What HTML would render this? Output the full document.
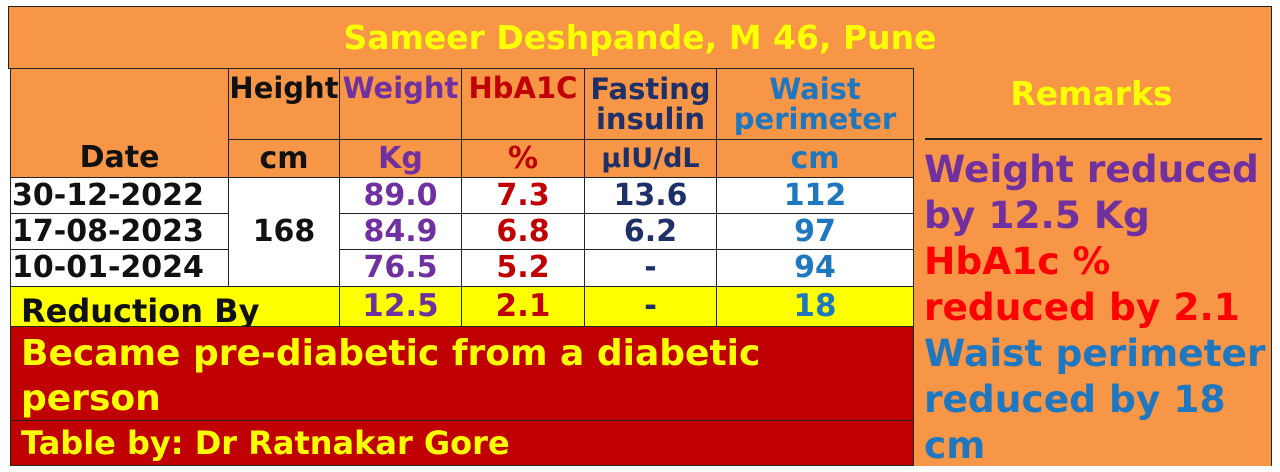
<!DOCTYPE html>
<html><head><meta charset="utf-8"><style>
html,body{margin:0;padding:0;background:#fff;}
body{width:1280px;height:472px;position:relative;overflow:hidden;font-family:"DejaVu Sans","Liberation Sans",sans-serif;font-weight:bold;}
.c{position:absolute;box-sizing:border-box;border:1px solid #222;display:flex;align-items:center;justify-content:center;text-align:center;line-height:1;white-space:nowrap;}
.o{background:#F79646;}
.w{background:#fff;}
.y{background:#FFFF00;}
.r{background:#C00000;}
.d{font-size:30px;}
.h{font-size:29px;}
.k{color:#111;} .p{color:#7030A0;} .rd{color:#C00000;} .n{color:#1F3068;} .b{color:#1F77C0;}
</style></head><body>
<div class="c o" style="left:8px;top:6px;width:1264px;height:63px;color:#FFFF00;font-size:33px;">Sameer Deshpande, M 46, Pune</div>

<div class="c o k d" style="left:10px;top:68px;width:219px;height:110px;align-items:flex-end;padding-bottom:4px;">Date</div>
<div class="c o k h" style="left:228px;top:68px;width:112px;height:72px;align-items:flex-start;padding-top:5px;">Height</div>
<div class="c o p h" style="left:339px;top:68px;width:123px;height:72px;align-items:flex-start;padding-top:5px;">Weight</div>
<div class="c o rd h" style="left:461px;top:68px;width:124px;height:72px;align-items:flex-start;padding-top:5px;">HbA1C</div>
<div class="c o n h" style="left:584px;top:68px;width:133px;height:72px;align-items:flex-start;padding-top:5px;line-height:1.05;white-space:normal;">Fasting insulin</div>
<div class="c o b h" style="left:716px;top:68px;width:198px;height:72px;align-items:flex-start;padding-top:5px;line-height:1.05;white-space:normal;">Waist<br>perimeter</div>

<div class="c o k d" style="left:228px;top:139px;width:112px;height:39px;">cm</div>
<div class="c o p d" style="left:339px;top:139px;width:123px;height:39px;">Kg</div>
<div class="c o rd d" style="left:461px;top:139px;width:124px;height:39px;">%</div>
<div class="c o n d" style="left:584px;top:139px;width:133px;height:39px;font-size:27px;">µIU/dL</div>
<div class="c o b d" style="left:716px;top:139px;width:198px;height:39px;">cm</div>

<div class="c o" style="left:913px;top:68px;width:359px;height:398px;border-bottom:none;border-top:none;"></div>
<div style="position:absolute;left:925px;top:138px;width:337px;height:2px;background:#222;"></div>
<div style="position:absolute;left:913px;top:74px;width:357px;text-align:center;color:#FFFF00;font-size:33px;">Remarks</div>
<div style="position:absolute;left:924px;top:146px;width:350px;font-size:37.5px;line-height:46px;white-space:nowrap;">
<div style="color:#7030A0">Weight reduced</div><div style="color:#7030A0">by 12.5 Kg</div>
<div style="color:#FF0000">HbA1c %</div><div style="color:#FF0000">reduced by 2.1</div>
<div style="color:#1F77C0">Waist perimeter</div><div style="color:#1F77C0">reduced by 18</div><div style="color:#1F77C0">cm</div></div>

<div class="c w k d" style="left:10px;top:177px;width:219px;height:37px;justify-content:flex-start;padding-left:1px;">30-12-2022</div>
<div class="c w k d" style="left:10px;top:213px;width:219px;height:37px;justify-content:flex-start;padding-left:1px;">17-08-2023</div>
<div class="c w k d" style="left:10px;top:249px;width:219px;height:38px;justify-content:flex-start;padding-left:1px;">10-01-2024</div>
<div class="c w k d" style="left:228px;top:177px;width:112px;height:110px;">168</div>

<div class="c w p d" style="left:339px;top:177px;width:123px;height:37px;">89.0</div>
<div class="c w p d" style="left:339px;top:213px;width:123px;height:37px;">84.9</div>
<div class="c w p d" style="left:339px;top:249px;width:123px;height:38px;">76.5</div>
<div class="c w rd d" style="left:461px;top:177px;width:124px;height:37px;">7.3</div>
<div class="c w rd d" style="left:461px;top:213px;width:124px;height:37px;">6.8</div>
<div class="c w rd d" style="left:461px;top:249px;width:124px;height:38px;">5.2</div>
<div class="c w n d" style="left:584px;top:177px;width:133px;height:37px;">13.6</div>
<div class="c w n d" style="left:584px;top:213px;width:133px;height:37px;">6.2</div>
<div class="c w n d" style="left:584px;top:249px;width:133px;height:38px;">-</div>
<div class="c w b d" style="left:716px;top:177px;width:198px;height:37px;">112</div>
<div class="c w b d" style="left:716px;top:213px;width:198px;height:37px;">97</div>
<div class="c w b d" style="left:716px;top:249px;width:198px;height:38px;">94</div>

<div class="c y k" style="left:10px;top:286px;width:330px;height:41px;justify-content:flex-start;padding-left:10px;padding-top:8px;font-size:32px;">Reduction By</div>
<div class="c y p" style="left:339px;top:286px;width:123px;height:41px;font-size:31px;">12.5</div>
<div class="c y rd" style="left:461px;top:286px;width:124px;height:41px;font-size:31px;">2.1</div>
<div class="c y n" style="left:584px;top:286px;width:133px;height:41px;font-size:31px;">-</div>
<div class="c y b" style="left:716px;top:286px;width:198px;height:41px;font-size:31px;">18</div>

<div class="c r" style="left:10px;top:326px;width:904px;height:95px;align-items:flex-start;justify-content:flex-start;white-space:normal;text-align:left;color:#FFFF00;font-size:36px;line-height:45px;padding-left:10px;padding-top:4px;">Became pre-diabetic from a diabetic<br>person</div>
<div class="c r" style="left:10px;top:420px;width:904px;height:46px;justify-content:flex-start;color:#FFFF00;font-size:32px;padding-left:10px;">Table by: Dr Ratnakar Gore</div>
</body></html>
